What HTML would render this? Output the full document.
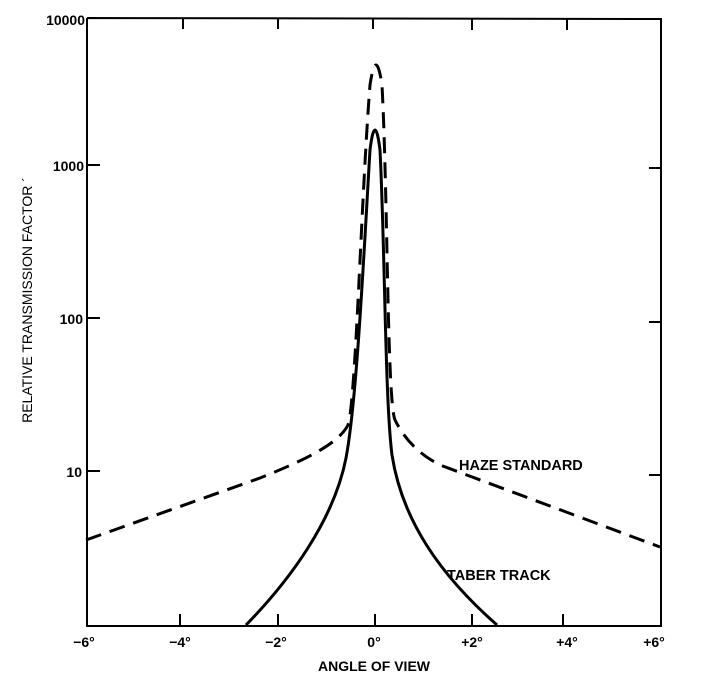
<!DOCTYPE html>
<html><head><meta charset="utf-8"><style>
html,body{margin:0;padding:0;background:#fff;}
svg{display:block;}
text{font-family:"Liberation Sans",sans-serif;fill:#000;}
</style></head><body>
<svg width="701" height="676" viewBox="0 0 701 676" xmlns="http://www.w3.org/2000/svg">
<g stroke="#000" stroke-width="2" fill="none">
<polyline points="87,18 661,19 661,626 87,626 87,18"/>
<line x1="87" y1="165" x2="100" y2="165"/>
<line x1="87" y1="318" x2="100" y2="318"/>
<line x1="87" y1="471" x2="100" y2="471"/>
<line x1="661" y1="168" x2="649" y2="168"/>
<line x1="661" y1="322" x2="649" y2="322"/>
<line x1="661" y1="475" x2="649" y2="475"/>
<line x1="183" y1="18" x2="183" y2="29"/>
<line x1="278" y1="18" x2="278" y2="29"/>
<line x1="373" y1="18" x2="373" y2="29"/>
<line x1="472" y1="19" x2="472" y2="30"/>
<line x1="567" y1="19" x2="567" y2="30"/>
<line x1="180" y1="626" x2="180" y2="614"/>
<line x1="278" y1="626" x2="278" y2="614"/>
<line x1="375" y1="626" x2="375" y2="614"/>
<line x1="472" y1="626" x2="472" y2="614"/>
<line x1="563" y1="626" x2="563" y2="614"/>
</g>
<path d="M246,625 C290,580 334,520 346,458 C357,400 364,250 370,150 Q375,110 380,150 C385,250 385,400 392,455 C402,520 440,575 497,625" stroke="#000" stroke-width="3" fill="none" stroke-linejoin="round"/>
<path d="M86,540 L260,478 C300,462 338,445 348,425 C356,400 361,200 370,85 Q376,45 382,85 C388,200 387,400 395,420 C405,440 420,455 440,465 L660,547" stroke="#000" stroke-width="3" fill="none" stroke-dasharray="16,9"/>
<g font-weight="bold" font-size="14">
<text x="85" y="25" text-anchor="end">10000</text>
<text x="84" y="171" text-anchor="end">1000</text>
<text x="83" y="324" text-anchor="end">100</text>
<text x="82" y="477" text-anchor="end">10</text>
<text x="84" y="647" text-anchor="middle">−6°</text>
<text x="180" y="647" text-anchor="middle">−4°</text>
<text x="276" y="647" text-anchor="middle">−2°</text>
<text x="374" y="647" text-anchor="middle">0°</text>
<text x="472" y="647" text-anchor="middle">+2°</text>
<text x="567" y="647" text-anchor="middle">+4°</text>
<text x="654" y="647" text-anchor="middle">+6°</text>
<text x="374" y="671" text-anchor="middle">ANGLE OF VIEW</text>
<text x="459" y="470" font-size="14.5">HAZE STANDARD</text>
<text x="447" y="580" font-size="14.5">TABER TRACK</text>
</g>
<text x="0" y="0" font-size="14" text-anchor="middle" transform="translate(32,300) rotate(-90)">RELATIVE TRANSMISSION FACTOR ´</text>
</svg>
</body></html>
